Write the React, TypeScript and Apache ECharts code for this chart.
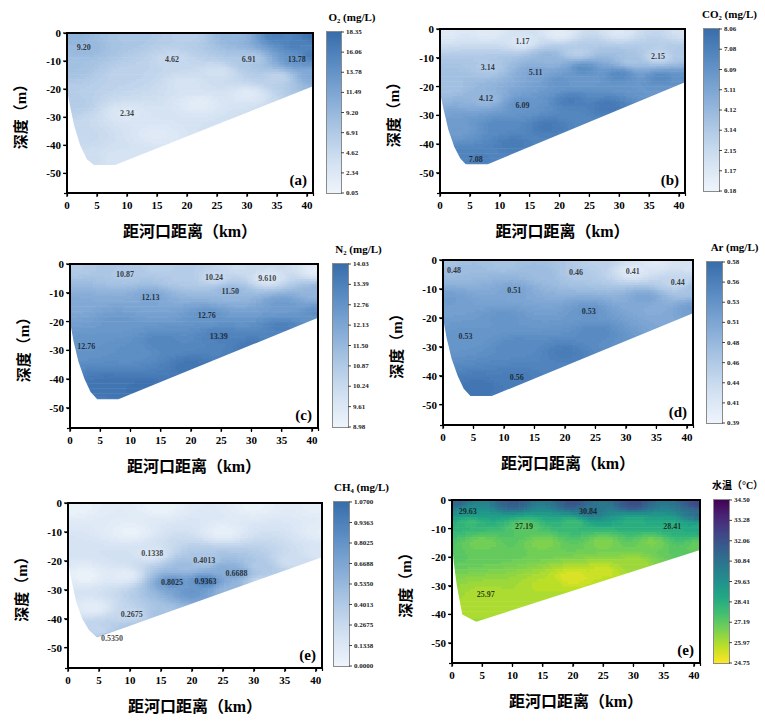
import React, { useEffect, useRef } from "react";
import * as echarts from "echarts";

// ---------- axes ----------
const xMax = 41;
const depthMax = 57;
const xTickStep = 5;
const depthTickStep = 10;

// ---------- colorbar tick labels (top -> bottom) ----------
const o2Ticks = ["18.35", "16.06", "13.78", "11.49", "9.20", "6.91", "4.62", "2.34", "0.05"];
const co2Ticks = ["8.06", "7.08", "6.09", "5.11", "4.12", "3.14", "2.15", "1.17", "0.18"];
const n2Ticks = ["14.03", "13.39", "12.76", "12.13", "11.50", "10.87", "10.24", "9.61", "8.98"];
const arTicks = ["0.58", "0.56", "0.53", "0.51", "0.48", "0.46", "0.44", "0.41", "0.39"];
const ch4Ticks = ["1.0700", "0.9363", "0.8025", "0.6688", "0.5350", "0.4013", "0.2675", "0.1338", "0.0000"];
const tempTicks = ["34.50", "33.28", "32.06", "30.84", "29.63", "28.41", "27.19", "25.97", "24.75"];

// ---------- contour labels [distance km, depth m, text] ----------
const o2Labels = [[2.8, 5.3, "9.20"], [17.5, 9.4, "4.62"], [30.3, 9.4, "6.91"], [38.3, 9.4, "13.78"], [10, 28.8, "2.34"]];
const co2Labels = [[13.8, 4.4, "1.17"], [8, 13.3, "3.14"], [16, 15, "5.11"], [36.5, 9.7, "2.15"], [7.7, 24.2, "4.12"], [13.8, 26.5, "6.09"], [6, 45.3, "7.08"]];
const n2Labels = [[9.1, 3.8, "10.87"], [23.8, 4.8, "10.24"], [32.6, 5, "9.610"], [26.5, 9.5, "11.50"], [13.3, 11.8, "12.13"], [22.6, 18, "12.76"], [24.6, 25.2, "13.39"], [2.7, 28.8, "12.76"]];
const arLabels = [[1.8, 3.6, "0.48"], [21.8, 4.4, "0.46"], [31.1, 3.9, "0.41"], [38.5, 7.7, "0.44"], [11.7, 10.4, "0.51"], [23.9, 17.8, "0.53"], [3.7, 26.4, "0.53"], [12.1, 40.6, "0.56"]];
const ch4Labels = [[13.6, 17.6, "0.1338"], [22, 19.9, "0.4013"], [27.2, 24.2, "0.6688"], [16.8, 27.3, "0.8025"], [22.2, 27, "0.9363"], [10.3, 38.6, "0.2675"], [7.1, 46.8, "0.5350"]];
const tempLabels = [[2.6, 3.9, "29.63"], [22.5, 3.9, "30.84"], [11.9, 9.4, "27.19"], [36.4, 9.4, "28.41"], [5.6, 32.9, "25.97"]];

// ---------- further values read from the shading [distance km, depth m, value] ----------
const o2Field = [[0.5, 1, 10], [10, 1.5, 7.5], [20, 1, 6], [28, 1, 9.5], [35, 1, 16], [41, 1, 17.8], [38, 4, 16], [41, 8, 16.5], [41, 15, 11], [35, 16, 5.5], [25, 14, 3.5], [22, 25, 1.5], [30, 22, 2], [15, 36, 2], [1, 12, 8], [1, 25, 6.5], [2, 37, 5], [4, 45, 4], [8, 45, 3], [20, 18, 3], [10, 15, 5.5]];
const co2Field = [[1, 1, 1.0], [8, 1, 0.9], [20, 1.5, 0.8], [30, 1, 1.2], [41, 1, 1.6], [41, 9, 3.2], [41, 17, 6.3], [32, 11, 3.5], [23, 8, 2.8], [24, 14, 6.4], [30, 16, 6.6], [37, 17, 6.6], [22, 25, 7.2], [28, 27, 7.5], [18, 34, 7.4], [12, 40, 7.3], [3, 35, 5.6], [1.5, 20, 3.6], [10, 34, 6.6], [20, 18, 6.0], [18, 10, 4.2], [4, 44, 6.9]];
const n2Field = [[1, 1, 10.8], [15, 1, 10.6], [28, 1, 10.1], [41, 2, 9.3], [41, 10, 11.6], [41, 17, 12.9], [35, 14, 12.5], [1, 14, 12.0], [8, 20, 12.6], [10, 31, 12.9], [15, 27, 13.2], [6, 42, 13.8], [12, 43, 13.9], [20, 36, 13.8], [30, 29, 13.7], [35, 22, 13.4], [18, 5, 10.8]];
const arField = [[1, 1, 0.47], [10, 1, 0.47], [25, 1, 0.45], [35, 1, 0.41], [41, 2, 0.42], [41, 10, 0.47], [41, 17, 0.52], [33, 13, 0.51], [1, 14, 0.52], [10, 20, 0.53], [12, 30, 0.545], [20, 32, 0.56], [6, 44, 0.57], [25, 25, 0.545], [16, 5, 0.48]];
const ch4Field = [[1, 1, 0.03], [15, 1, 0.03], [30, 1, 0.04], [41, 1, 0.05], [41, 10, 0.07], [41, 17, 0.15], [10, 10, 0.04], [25, 10, 0.05], [3, 25, 0.03], [4, 36, 0.08], [9, 25, 0.08], [19, 22, 0.5], [25, 23, 0.62], [31, 22, 0.4], [36, 20, 0.22], [20, 31, 0.78], [26, 30, 0.55], [15, 38, 0.45], [31, 27, 0.3], [5, 44, 0.3], [12, 44, 0.5]];
const tempField = [[0.5, 1, 31.4], [10, 1, 31.7], [20, 1, 32.0], [30, 1, 32.2], [41, 1, 32.5], [41, 5, 31.0], [41, 10, 28.6], [41, 16, 27.0], [30, 8, 28.4], [3, 8, 28.0], [20, 8, 27.9], [5, 15, 26.8], [15, 15, 26.6], [25, 15, 26.6], [33, 15, 26.7], [20, 27, 25.2], [25, 25, 25.5], [15, 30, 25.8], [30, 22, 26.1], [2, 38, 26.0], [10, 38, 25.9]];

// ---------- section bottom outline [distance km, depth m] ----------
const edgeA = [[0, 20], [0.5, 26], [1.2, 33], [2.2, 40], [3.3, 45], [4.5, 47], [8, 47], [41, 19]];
const edgeB = [[0, 22], [0.6, 28], [1.4, 35], [2.4, 41], [3.4, 45], [4.3, 47], [8, 47], [41, 18.5]];
const edgeC = [[0, 20], [0.6, 27], [1.4, 34], [2.4, 40], [3.4, 44.5], [4.5, 47], [8, 47], [41, 18.7]];
const edgeD = [[0, 20], [0.6, 27], [1.4, 34], [2.4, 40], [3.4, 44.5], [4.5, 47], [8, 47], [41, 18.4]];
const edgeE = [[0, 20], [0.6, 27], [1.3, 34], [2.3, 40], [3.4, 44], [4.7, 46.5], [41, 18.7]];
const edgeF = [[0, 15], [0.3, 22], [0.8, 30], [1.7, 40], [4, 42.6], [41, 17.5]];

// ---------- colours ----------
const BLUES = ["#eef4fb", "#d1e0f1", "#abc6e4", "#82a9d5", "#5a8cc3", "#386dab"];
const VIRIDIS = ["#440154", "#482475", "#414487", "#355f8d", "#2a788e", "#21918c", "#22a884", "#44bf70", "#7ad151", "#bddf26", "#fde725"];

const SERIF = "'Liberation Serif', 'Times New Roman', serif";
const CJK = "'Liberation Serif', 'Noto Sans CJK SC', serif";

// ---------- layout ----------
const layout = [
  { grid: [67, 33, 246, 160], cbar: [327, 32, 14, 161] },
  { grid: [440, 29, 245, 164], cbar: [704, 29, 15, 162] },
  { grid: [70, 264, 248, 164], cbar: [333, 264, 15, 163] },
  { grid: [443, 260, 250, 165], cbar: [707, 262, 15, 161] },
  { grid: [68, 503, 254, 165], cbar: [334, 502, 15, 164] },
  { grid: [452, 500, 248, 163], cbar: [714, 500, 15, 163] },
];
const titleDx = [18, 18, 18, 20, 20, 16];

const panels = [
  { letter: "(a)", title: "O₂ (mg/L)", ticks: o2Ticks, labels: o2Labels, field: o2Field, edge: edgeA, colors: BLUES, reverse: false },
  { letter: "(b)", title: "CO₂ (mg/L)", ticks: co2Ticks, labels: co2Labels, field: co2Field, edge: edgeB, colors: BLUES, reverse: false },
  { letter: "(c)", title: "N₂ (mg/L)", ticks: n2Ticks, labels: n2Labels, field: n2Field, edge: edgeC, colors: BLUES, reverse: false },
  { letter: "(d)", title: "Ar (mg/L)", ticks: arTicks, labels: arLabels, field: arField, edge: edgeD, colors: BLUES, reverse: false },
  { letter: "(e)", title: "CH₄ (mg/L)", ticks: ch4Ticks, labels: ch4Labels, field: ch4Field, edge: edgeE, colors: BLUES, reverse: false },
  { letter: "(e)", title: "水温（°C）", ticks: tempTicks, labels: tempLabels, field: tempField, edge: edgeF, colors: VIRIDIS, reverse: true },
];

function hexToRgb(h: string) {
  const n = parseInt(h.slice(1), 16);
  return [(n >> 16) & 255, (n >> 8) & 255, n & 255];
}
function makeCmap(colors: string[], reverse: boolean) {
  const rgb = colors.map(hexToRgb);
  return (t: number) => {
    let u = Math.max(0, Math.min(1, t));
    if (reverse) u = 1 - u;
    const f = u * (rgb.length - 1);
    const i = Math.min(rgb.length - 2, Math.floor(f));
    const k = f - i;
    const c = rgb[i].map((v, j) => Math.round(v + (rgb[i + 1][j] - v) * k));
    return `rgb(${c[0]},${c[1]},${c[2]})`;
  };
}

function inPoly(x: number, y: number, poly: number[][]) {
  let inside = false;
  for (let i = 0, j = poly.length - 1; i < poly.length; j = i++) {
    const xi = poly[i][0], yi = poly[i][1], xj = poly[j][0], yj = poly[j][1];
    if ((yi > y) !== (yj > y) && x < ((xj - xi) * (y - yi)) / (yj - yi) + xi) inside = !inside;
  }
  return inside;
}

function idw(pts: number[][], x: number, d: number) {
  let sw = 0, sv = 0;
  for (const p of pts) {
    const dx = x - p[0], dd = d - p[1];
    const r2 = dx * dx + dd * dd;
    if (r2 < 1e-6) return p[2];
    const w = 1 / Math.pow(r2, 1.25);
    sw += w;
    sv += w * p[2];
  }
  return sv / sw;
}

function plotBox(api: any) {
  const o0 = api.coord([0, 0]);
  const o1 = api.coord([xMax, depthMax]);
  return { x0: Math.min(o0[0], o1[0]), x1: Math.max(o0[0], o1[0]), y0: Math.min(o0[1], o1[1]), y1: Math.max(o0[1], o1[1]) };
}

function fieldRenderer(pts: number[][], edge: number[][], cmap: (t: number) => string, vmin: number, vmax: number) {
  const poly = [[0, 0], ...edge, [xMax, 0]];
  return (params: any, api: any) => {
    const nx = 96, ny = 66, NL = 44;
    const cx = xMax / nx, cy = depthMax / ny;
    const children: any[] = [];
    const b = plotBox(api);
    const emit = (i0: number, i1: number, j: number, lev: number) => {
      const p0 = api.coord([i0 * cx, j * cy]);
      const p1 = api.coord([i1 * cx, (j + 1) * cy]);
      const x = Math.min(p0[0], p1[0]), y = Math.min(p0[1], p1[1]);
      const w = Math.min(Math.abs(p1[0] - p0[0]) + 0.6, b.x1 - x);
      const h = Math.min(Math.abs(p1[1] - p0[1]) + 0.6, b.y1 - y);
      children.push({ type: "rect", shape: { x, y, width: w, height: h }, style: { fill: cmap((lev + 0.5) / NL) } });
    };
    for (let j = 0; j < ny; j++) {
      let start = 0, cur = -1;
      for (let i = 0; i <= nx; i++) {
        let lev = -1;
        if (i < nx) {
          const x0 = i * cx, x1 = x0 + cx, d0 = j * cy, d1 = d0 + cy;
          if (inPoly(x0, d0, poly) || inPoly(x1, d0, poly) || inPoly(x0, d1, poly) || inPoly(x1, d1, poly)) {
            const v = idw(pts, x0 + cx / 2, d0 + cy / 2);
            const t = Math.max(0, Math.min(1, (v - vmin) / (vmax - vmin)));
            lev = Math.min(NL - 1, Math.floor(t * NL));
          }
        }
        if (lev !== cur) {
          if (cur >= 0) emit(start, i, j, cur);
          start = i;
          cur = lev;
        }
      }
    }
    const maskPts = edge.concat([[xMax, depthMax], [0, depthMax]]).map((p) => api.coord(p));
    children.push({ type: "polygon", shape: { points: maskPts }, style: { fill: "#ffffff" } });
    return { type: "group", children };
  };
}

// black frame and outward ticks, as filled bars
function frameRenderer(params: any, api: any) {
  const b = plotBox(api);
  const t = 1.8;
  const W = b.x1 - b.x0, H = b.y1 - b.y0;
  const children: any[] = [
    { type: "rect", shape: { x: b.x0 - t / 2, y: b.y0 - t / 2, width: W + t, height: t }, style: { fill: "#000" } },
    { type: "rect", shape: { x: b.x0 - t / 2, y: b.y1 - t / 2, width: W + t, height: t }, style: { fill: "#000" } },
    { type: "rect", shape: { x: b.x0 - t / 2, y: b.y0 - t / 2, width: t, height: H + t }, style: { fill: "#000" } },
    { type: "rect", shape: { x: b.x1 - t / 2, y: b.y0 - t / 2, width: t, height: H + t }, style: { fill: "#000" } },
  ];
  for (let v = 0; v <= xMax; v += xTickStep) {
    const q = api.coord([v, depthMax]);
    children.push({ type: "rect", shape: { x: q[0] - 0.6, y: b.y1, width: 1.2, height: 4 }, style: { fill: "#000" } });
  }
  for (let v = 0; v <= depthMax; v += depthTickStep) {
    const q = api.coord([0, v]);
    children.push({ type: "rect", shape: { x: b.x0 - 4, y: q[1] - 0.6, width: 4, height: 1.2 }, style: { fill: "#000" } });
  }
  return { type: "group", children };
}

function buildOption() {
  const grid: any[] = [], xAxis: any[] = [], yAxis: any[] = [], series: any[] = [], graphic: any[] = [];
  panels.forEach((p, i) => {
    const L = layout[i];
    const gi = 2 * i, ci = 2 * i + 1;
    const vmax = parseFloat(p.ticks[0]);
    const vmin = parseFloat(p.ticks[p.ticks.length - 1]);
    const cmap = makeCmap(p.colors, p.reverse);
    grid.push({ left: L.grid[0], top: L.grid[1], width: L.grid[2], height: L.grid[3] });
    grid.push({ left: L.cbar[0], top: L.cbar[1], width: L.cbar[2], height: L.cbar[3] });

    xAxis.push({
      gridIndex: gi, type: "value", min: 0, max: xMax, interval: xTickStep,
      name: "距河口距离（km）", nameLocation: "middle", nameGap: 30,
      nameTextStyle: { fontSize: 16, fontWeight: "bold", fontFamily: CJK, color: "#000" },
      axisLine: { show: true, onZero: false, lineStyle: { color: "#000", width: 1.5 } },
      axisTick: { show: true, length: 3, lineStyle: { color: "#000", width: 1.2 } },
      axisLabel: { fontSize: 11, fontWeight: "bold", fontFamily: SERIF, color: "#000", margin: 6, formatter: (v: number) => (v % xTickStep === 0 ? String(v) : "") },
      splitLine: { show: false },
    });
    xAxis.push({ gridIndex: ci, type: "value", min: 0, max: 1, show: false });

    yAxis.push({
      gridIndex: gi, type: "value", inverse: true, min: 0, max: depthMax, interval: depthTickStep,
      name: "深度（m）", nameLocation: "middle", nameGap: 39,
      nameTextStyle: { fontSize: 15, fontWeight: "bold", fontFamily: CJK, color: "#000" },
      axisLine: { show: true, onZero: false, lineStyle: { color: "#000", width: 1.5 } },
      axisTick: { show: true, length: 3, lineStyle: { color: "#000", width: 1.2 } },
      axisLabel: { fontSize: 11, fontWeight: "bold", fontFamily: SERIF, color: "#000", margin: 6, formatter: (v: number) => (v % depthTickStep !== 0 ? "" : v === 0 ? "0" : "-" + v) },
      splitLine: { show: false },
    });
    yAxis.push({
      gridIndex: ci, type: "value", min: 0, max: 8, interval: 1, position: "right",
      axisLine: { show: false },
      axisTick: { show: false },
      axisLabel: { fontSize: 7, fontWeight: "bold", fontFamily: SERIF, color: "#222", margin: 5, formatter: (v: number) => p.ticks[8 - Math.round(v)] },
      splitLine: { show: false },
    });

    const pts = p.labels.map((l: any) => [l[0], l[1], parseFloat(l[2])]).concat(p.field);
    series.push({
      type: "custom", xAxisIndex: gi, yAxisIndex: gi, data: [[0, 0]], silent: true, z: 2, clip: false,
      renderItem: fieldRenderer(pts, p.edge, cmap, vmin, vmax),
    });
    series.push({
      type: "custom", xAxisIndex: gi, yAxisIndex: gi, data: [[0, 0]], silent: true, z: 6, clip: false,
      renderItem: frameRenderer,
    });
    series.push({
      type: "scatter", xAxisIndex: gi, yAxisIndex: gi, silent: true, z: 5,
      symbolSize: 1, itemStyle: { color: "rgba(0,0,0,0)" },
      data: p.labels.map((l: any) => [l[0], l[1], l[2]]),
      label: { show: true, position: "inside", formatter: (q: any) => q.data[2], fontSize: 8, fontWeight: "bold", fontFamily: SERIF, color: "#111" },
    });
    const stops: any[] = [];
    for (let k = 0; k <= 20; k++) stops.push({ offset: k / 20, color: cmap(1 - k / 20) });
    series.push({
      type: "custom", xAxisIndex: ci, yAxisIndex: ci, data: [[0, 0]], silent: true, clip: false,
      renderItem: (params: any, api: any) => {
        const a = api.coord([0, 8]);
        const b = api.coord([1, 0]);
        const x = Math.min(a[0], b[0]), y = Math.min(a[1], b[1]);
        const w = Math.abs(b[0] - a[0]), h = Math.abs(b[1] - a[1]);
        const children: any[] = [
          { type: "rect", shape: { x: x - 1, y: y - 1, width: w + 2, height: h + 2 }, style: { fill: "#8a8a8a" } },
          { type: "rect", shape: { x, y, width: w, height: h }, style: { fill: new echarts.graphic.LinearGradient(0, 0, 0, 1, stops) } },
        ];
        for (let k = 0; k <= 8; k++) {
          const q = api.coord([1, k]);
          children.push({ type: "rect", shape: { x: x + w, y: q[1] - 0.5, width: 3, height: 1 }, style: { fill: "#444" } });
        }
        return { type: "group", children };
      },
    });
    // plot frame (fallback through the graphic component, same box as the grid)
    const [gl, gt, gw, gh] = L.grid;
    const ft = 1.8;
    graphic.push({ type: "rect", z: 90, shape: { x: gl - ft / 2, y: gt - ft / 2, width: gw + ft, height: ft }, style: { fill: "#000" } });
    graphic.push({ type: "rect", z: 90, shape: { x: gl - ft / 2, y: gt + gh - ft / 2, width: gw + ft, height: ft }, style: { fill: "#000" } });
    graphic.push({ type: "rect", z: 90, shape: { x: gl - ft / 2, y: gt - ft / 2, width: ft, height: gh + ft }, style: { fill: "#000" } });
    graphic.push({ type: "rect", z: 90, shape: { x: gl + gw - ft / 2, y: gt - ft / 2, width: ft, height: gh + ft }, style: { fill: "#000" } });
    graphic.push({
      type: "text", z: 100, x: L.cbar[0] + L.cbar[2] / 2 + titleDx[i], y: L.cbar[1] - 15,
      style: { text: p.title, fontSize: i === 5 ? 10 : 11, fontWeight: "bold", fontFamily: CJK, fill: "#000", align: "center", verticalAlign: "middle" },
    });
    graphic.push({
      type: "text", z: 100, x: L.grid[0] + L.grid[2] - 6, y: L.grid[1] + L.grid[3] - 13,
      style: { text: p.letter, fontSize: 15, fontWeight: "bold", fontFamily: SERIF, fill: "#000", align: "right", verticalAlign: "middle" },
    });
  });
  return { animation: false, backgroundColor: "#ffffff", grid, xAxis, yAxis, series, graphic };
}

export default function App() {
  const ref = useRef<HTMLDivElement>(null);
  useEffect(() => {
    if (!ref.current) return;
    const chart = echarts.init(ref.current, undefined, { renderer: "svg" });
    chart.setOption(buildOption() as any);
    return () => chart.dispose();
  }, []);
  return <div ref={ref} style={{ position: "fixed", left: 0, top: 0, width: 765, height: 727, background: "#fff" }} />;
}
